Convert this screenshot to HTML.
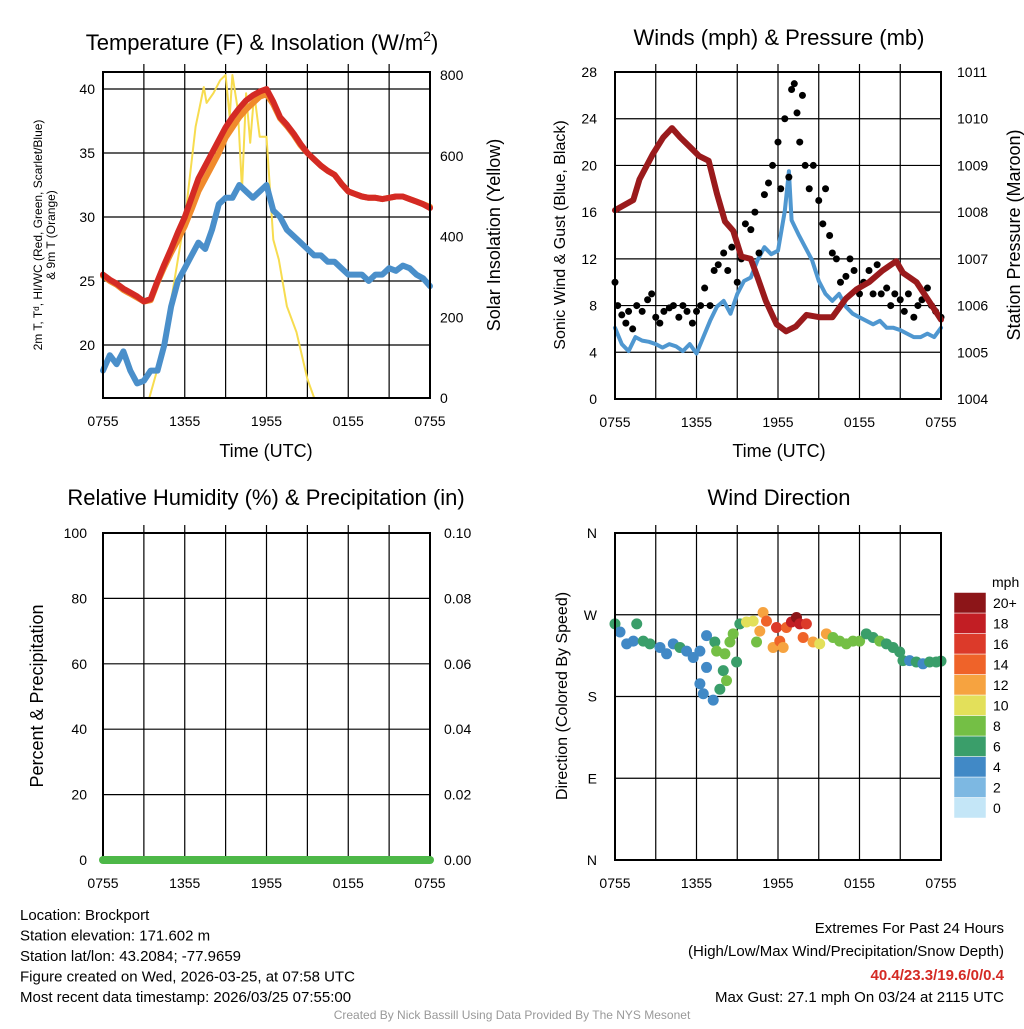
<!DOCTYPE html>
<html><head><meta charset="utf-8"><style>
html,body{margin:0;padding:0;background:#fff;}
svg text{font-family:"Liberation Sans",sans-serif;fill:#000;}
</style></head><body>
<svg id="s" width="1024" height="1024" xmlns="http://www.w3.org/2000/svg"></svg>
<script>
// ---------- data ----------
const hourTicks=['0755','1355','1955','0155','0755'];
const tT=[0,0.5,1,1.5,2,2.5,3,3.5,4,4.5,5,5.5,6,6.5,7,7.5,8,8.5,9,9.5,10,10.5,11,11.5,12,12.5,13,13.5,14,14.5,15,15.5,16,16.5,17,17.5,18,18.5,19,19.5,20,20.5,21,21.5,22,22.5,23,23.5,24];
const tempRed=[25.5,25.1,24.8,24.4,24.1,23.8,23.4,23.6,25.0,26.3,27.5,28.8,30.0,31.5,33.0,34.0,35.0,36.0,37.0,37.8,38.5,39.1,39.5,39.8,40.0,39.0,37.8,37.2,36.5,35.7,35.0,34.5,34.0,33.6,33.3,32.6,32.0,31.8,31.6,31.5,31.5,31.4,31.5,31.6,31.6,31.4,31.2,31.0,30.7];
const tempOrange=[25.4,25.0,24.7,24.3,24.0,23.7,23.4,23.5,24.9,26.1,27.2,28.2,29.3,30.6,32.0,33.0,34.0,35.0,36.2,37.0,37.8,38.4,38.9,39.4,39.6,38.8,37.7,37.1,36.4,35.6,35.0,34.5,34.0,33.6,33.3,32.6,32.0,31.8,31.6,31.5,31.5,31.4,31.5,31.6,31.6,31.4,31.2,31.0,30.8];
const tempBlue=[18.0,19.2,18.5,19.5,18.0,17.0,17.2,18.0,18.0,20.0,23.0,25.0,26.0,27.0,28.0,27.5,29.0,31.0,31.5,31.5,32.5,32.0,31.5,32.0,32.5,30.5,30.0,29.0,28.5,28.0,27.5,27.0,27.0,26.5,26.5,26.0,25.5,25.5,25.5,25.0,25.5,25.5,26.0,25.8,26.2,26.0,25.5,25.2,24.6];
const solT=[0,3.4,4.2,5.1,6.1,6.8,7.1,7.4,7.6,8.1,8.6,9.0,9.3,9.5,9.9,10.2,10.5,10.8,11.1,11.5,12.0,12.5,12.9,13.5,14.2,15.0,15.5,24];
const solV=[0,0,96,262,467,672,721,770,731,755,787,800,696,800,713,516,755,632,755,647,647,392,343,227,163,47,0,0];
const windT=[0,0.5,1,1.5,2,2.5,3,3.5,4,4.5,5,5.5,6,6.5,7,7.5,8,8.5,9,9.5,10,10.5,11,11.5,12,12.5,12.8,13,13.5,14,14.5,15,15.5,16,16.5,17,17.5,18,18.5,19,19.5,20,20.5,21,21.5,22,22.5,23,23.5,24];
const windV=[6.1,4.7,4.1,5.3,5.0,4.9,4.7,4.4,4.7,4.5,4.1,4.7,3.9,5.3,6.7,7.9,8.4,7.3,9.0,10.1,10.4,11.9,13.0,12.4,12.7,16.1,19.5,15.3,14.1,13.0,11.9,10.1,9.0,8.4,9.0,7.9,7.3,7.0,6.7,6.4,6.7,6.1,6.1,5.9,5.6,5.3,5.3,5.6,5.3,6.1];
const presT=[0,1.35,1.8,2.8,3.55,4.2,4.8,5.5,6.2,6.9,7.5,8.1,8.7,9.3,10,10.5,11.1,11.9,12.6,13.3,14.1,15.1,16,17,17.8,18.7,19.7,20.7,21.2,22.2,23.1,24];
const presV=[1008.04,1008.26,1008.7,1009.25,1009.6,1009.8,1009.6,1009.4,1009.2,1009.1,1008.4,1007.8,1007.6,1007.05,1007.0,1006.6,1006.1,1005.6,1005.45,1005.55,1005.8,1005.75,1005.75,1006.15,1006.35,1006.5,1006.75,1006.95,1006.7,1006.5,1006.1,1005.7];
const gustT=[0,0.2,0.5,0.8,1,1.3,1.6,2,2.4,2.7,3,3.3,3.6,4,4.3,4.7,5,5.3,5.7,6,6.3,6.6,7,7.3,7.6,8,8.3,8.6,9,9.3,9.6,10,10.3,10.6,11,11.3,11.6,12,12.2,12.5,12.8,13,13.2,13.4,13.6,13.8,14,14.3,14.6,15,15.3,15.5,15.8,16,16.3,16.6,17,17.3,17.6,18,18.3,18.7,19,19.3,19.6,20,20.3,20.6,21,21.3,21.6,22,22.3,22.6,23,23.3,23.6,24];
const gustV=[10,8,7.2,6.5,7.5,6,8,7.5,8.5,9,7,6.5,7.5,7.8,8,7,8,7.5,6.5,7.5,8,9.5,8,11,11.5,12.5,11,13,10,12,15,14.5,16,12.5,17.5,18.5,20,22,18,24,19,26.5,27,24.5,22,26,20,18,20,17,15,18,14,12.5,12,10,10.5,12,11,9,10,11,9,11.5,9,9.5,8,9,8.5,7.5,9,7,8,8.5,9.5,8,7.5,7];
const dirT=[0,0.37,0.86,1.35,1.6,2.08,2.57,3.31,3.8,4.29,4.78,5.27,5.76,6.25,6.74,6.74,6.25,7.23,6.5,7.35,7.48,8.09,7.97,8.21,7.72,8.46,8.7,8.95,9.19,9.68,10.17,10.66,10.9,11.15,10.42,11.64,11.89,12.13,12.38,12.62,12.99,13.36,13.6,14.09,13.85,14.58,15.07,15.56,16.05,16.54,17.03,17.52,18.01,18.5,19.0,19.49,19.98,20.47,20.96,21.2,21.69,22.18,22.67,23.16,23.65,24];
const dirV=[260,251,238,241,260,241,238,234,227,238,234,230,223,230,247,212,194,176,183,240,230,227,208.5,197.5,188,240,249,218,260,262,263,252,272.5,263,240,234,256,241,234,256,262,267,260,260,245,240,238,249,245,241,238,241,241,249,245,241,238,234,229,219.5,219.5,218,216,218,218,219];
const dirS=[6,4,4,4,6,6,6,4,4,4,6,4,4,4,4,4,4,4,4,6,8,8,6,8,6,8,8,6,6,10,10,12,12,14,8,12,16,14,12,14,18,20,18,16,14,12,10,12,8,8,8,8,8,6,6,8,6,6,6,6,4,6,4,6,6,6];
const rhT=[0,24]; const rhV=[0,0];
const cbLabels=['0','2','4','6','8','10','12','14','16','18','20+'];
const cbColors=['#c4e6f7','#7db8e2','#4189c6','#3a9e6a','#74bf45','#e3e05a','#f6a340','#ef6329','#dc3a2a','#c21e24','#8c1518'];

// ---------- helpers ----------
const S=document.getElementById('s');const NS='http://www.w3.org/2000/svg';
function mk(tag,at,parent){const e=document.createElementNS(NS,tag);for(const k in at)e.setAttribute(k,at[k]);(parent||S).appendChild(e);return e;}
function txt(x,y,s,size,anchor,rot,parent){const e=mk('text',{x:x,y:y,'font-size':size,'text-anchor':anchor||'middle'},parent);if(rot)e.setAttribute('transform','rotate('+rot+' '+x+' '+y+')');e.textContent=s;return e;}
function scale(d0,d1,r0,r1){return v=>r0+(v-d0)/(d1-d0)*(r1-r0);}

function frame(name,x0,x1,y0,y1,xs,ys,yTicks){
  const g=mk('g',{});
  
  
  for(let h=3;h<24;h+=3){mk('line',{x1:xs(h),x2:xs(h),y1:y0-8,y2:y1,stroke:'#000','stroke-width':1.2},g);}
  yTicks.forEach(v=>{const y=ys(v);if(Math.abs(y-y0)>1&&Math.abs(y-y1)>1)mk('line',{x1:x0,x2:x1,y1:y,y2:y,stroke:'#000','stroke-width':1.2},g);});
  return g;
}
function box(x0,x1,y0,y1){mk('rect',{x:x0,y:y0,width:x1-x0,height:y1-y0,fill:'none',stroke:'#000','stroke-width':2});}
function xLabels(xs,y){hourTicks.forEach((s,i)=>{const t=txt(xs(i*6),y,s,14);});}
function poly(ts,vs,xs,ys,color,w,name){const p=ts.map((t,i)=>xs(t).toFixed(1)+','+ys(vs[i]).toFixed(1)).join(' ');const e=mk('polyline',{points:p,fill:'none',stroke:color,'stroke-width':w,'stroke-linejoin':'round','stroke-linecap':'round'});return e;}

// ---------- Panel 1 ----------
{const x0=103,x1=430,y0=72,y1=398;
 const xs=scale(0,24,x0,x1), ys=scale(40,20,89,345), ys2=scale(0,800,398,75);
 frame('temperature-grid',x0,x1,y0,y1,xs,ys,[20,25,30,35,40]);
 poly(solT,solV,xs,ys2,'#f7dc4f',2,'insolation-line');
 poly(tT,tempOrange,xs,ys,'#f08a2c',6,'temp-9m-line');
 poly(tT,tempRed,xs,ys,'#d42a24',6,'temp-2m-line');
 poly(tT,tempBlue,xs,ys,'#4a8fca',6,'windchill-line');
 box(x0,x1,y0,y1);
 [20,25,30,35,40].forEach(v=>{const t=txt(x0-8,ys(v)+5,String(v),14,'end');});
 [0,200,400,600,800].forEach(v=>{const t=txt(x1+10,ys2(v)+5,String(v),14,'start');});
 xLabels(xs,y1+28);
 let t=txt(262,50,'Temperature (F) & Insolation (W/m',22);
 const ts=mk('tspan',{dy:-9,'font-size':14},t);ts.textContent='2';const ts2=mk('tspan',{dy:9,'font-size':22},t);ts2.textContent=')';
 t=txt(266,457,'Time (UTC)',18);
 t=txt(42,235,'2m T, T\u1D48, HI/WC (Red, Green, Scarlet/Blue)',12,'middle',-90);
 t=txt(55,235,'& 9m T (Orange)',12,'middle',-90);
 t=txt(500,235,'Solar Insolation (Yellow)',18,'middle',-90);
}
// ---------- Panel 2 ----------
{const x0=615,x1=941,y0=72,y1=399;
 const xs=scale(0,24,x0,x1), ys=scale(0,28,y1,y0), ys2=scale(1004,1011,y1,y0);
 frame('wind-grid',x0,x1,y0,y1,xs,ys,[4,8,12,16,20,24]);
 poly(windT,windV,xs,ys,'#4f97d0',4,'sonic-wind-line');
 gustT.forEach((tt,i)=>{const c=mk('circle',{cx:xs(tt),cy:ys(gustV[i]),r:3.5,fill:'#000'});});
 poly(presT,presV,xs,ys2,'#9a1a1c',6,'pressure-line');
 box(x0,x1,y0,y1);
 [0,4,8,12,16,20,24,28].forEach(v=>{const t=txt(x0-18,ys(v)+5,String(v),14,'end');});
 [1004,1005,1006,1007,1008,1009,1010,1011].forEach(v=>{const t=txt(x1+16,ys2(v)+5,String(v),14,'start');});
 xLabels(xs,y1+28);
 let t=txt(779,45,'Winds (mph) & Pressure (mb)',22);
 t=txt(779,457,'Time (UTC)',18);
 t=txt(565,235,'Sonic Wind & Gust (Blue, Black)',16,'middle',-90);
 t=txt(1020,235,'Station Pressure (Maroon)',18,'middle',-90);
}
// ---------- Panel 3 ----------
{const x0=103,x1=430,y0=533,y1=860;
 const xs=scale(0,24,x0,x1), ys=scale(0,100,y1,y0), ys2=scale(0,0.1,y1,y0);
 frame('humidity-grid',x0,x1,y0,y1,xs,ys,[20,40,60,80]);
 box(x0,x1,y0,y1);
 poly(rhT,rhV,xs,ys,'#4db848',8,'precip-line');
 [0,20,40,60,80,100].forEach(v=>{const t=txt(x0-16,ys(v)+5,String(v),14,'end');});
 ['0.00','0.02','0.04','0.06','0.08','0.10'].forEach((s,i)=>{const t=txt(x1+14,ys2(i*0.02)+5,s,14,'start');});
 xLabels(xs,y1+28);
 let t=txt(266,505,'Relative Humidity (%) & Precipitation (in)',22);
 t=txt(43,696,'Percent & Precipitation',18,'middle',-90);
}
// ---------- Panel 4 ----------
{const x0=615,x1=941,y0=533,y1=860;
 const xs=scale(0,24,x0,x1), ys=scale(0,360,y1,y0);
 frame('direction-grid',x0,x1,y0,y1,xs,ys,[90,180,270]);
 dirT.forEach((tt,i)=>{const ci=Math.min(10,Math.round(dirS[i]/2));const c=mk('circle',{cx:xs(tt),cy:ys(dirV[i]),r:5.5,fill:cbColors[ci]});});
 box(x0,x1,y0,y1);
 ['N','E','S','W','N'].forEach((s,i)=>{const t=txt(x0-18,ys(i*90)+5,s,14,'end');});
 xLabels(xs,y1+28);
 let t=txt(779,505,'Wind Direction',22);
 t=txt(567,696,'Direction (Colored By Speed)',16,'middle',-90);
 const cb=mk('g',{});
 const bh=20.5;
 cbColors.forEach((c,i)=>{const y=818-(i+1)*bh;mk('rect',{x:954,y:y,width:32,height:bh,fill:c,stroke:'#fff','stroke-width':0.5},cb);txt(993,y+bh/2+5,cbLabels[i],14,'start',0,cb);});
 t=txt(992,587,'mph',14,'start');
}
// ---------- Footer ----------
{const L=['Location: Brockport','Station elevation: 171.602 m','Station lat/lon: 43.2084; -77.9659','Figure created on Wed, 2026-03-25, at 07:58 UTC','Most recent data timestamp: 2026/03/25 07:55:00'];
 L.forEach((s,i)=>{const t=txt(20,920+i*20.5,s,15,'start');});
 let t=txt(1004,933,'Extremes For Past 24 Hours',15,'end');
 t=txt(1004,956,'(High/Low/Max Wind/Precipitation/Snow Depth)',15,'end');
 t=txt(1004,980,'40.4/23.3/19.6/0/0.4',15,'end');t.setAttribute('style','fill:#d42a24;font-weight:bold');
 t=txt(1004,1002,'Max Gust: 27.1 mph On 03/24 at 2115 UTC',15,'end');
 t=txt(512,1019,'Created By Nick Bassill Using Data Provided By The NYS Mesonet',12);t.setAttribute('style','fill:#999');
}
</script>
</body></html>
